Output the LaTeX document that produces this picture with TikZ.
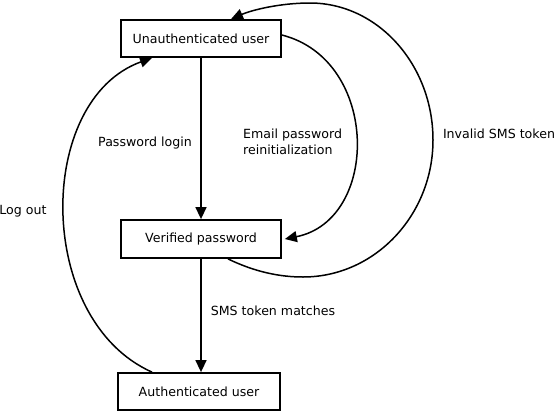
\documentclass[tikz,border=0pt]{standalone}
\usepackage{fontspec}
\setmainfont{DejaVu Sans}
\usetikzlibrary{arrows.meta}
\begin{document}
\begin{tikzpicture}[x=1pt,y=-1pt,
  state/.style={draw,line width=1.8pt,rectangle,minimum width=160pt,minimum height=37pt,inner sep=0pt,font=\fontsize{12.6}{15}\selectfont},
  lbl/.style={font=\fontsize{12.6}{16}\selectfont,inner sep=0pt},
  conn/.style={line width=1.5pt,-{Triangle[length=12pt,width=11pt]}}]
\useasboundingbox (0,0) rectangle (557,413);
\node[state] (u) at (201,38.5) {Unauthenticated user};
\node[state,minimum height=38pt] (v) at (201,239) {Verified password};
\node[state,minimum width=162pt] (a) at (199,391.5) {Authenticated user};
\draw[conn] (u.south) -- (v.north);
\draw[conn] (v.south) -- ([xshift=2pt]a.north);
\draw[conn] ([yshift=3.5pt]u.east) .. controls (380,60) and (380,220) .. ([xshift=3pt]v.east);
\draw[conn] ([xshift=27pt]v.south) .. controls (255,272) and (280,277) .. (303,277)
  .. controls (375,277) and (433,215) .. (433,140)
  .. controls (433,65) and (378,3) .. (310,3)
  .. controls (280,3) and (252,10) .. ([xshift=30pt]u.north);
\draw[conn] ([xshift=-47pt]a.north) .. controls (35,320) and (35,100) .. ([xshift=-49pt]u.south);
\node[lbl] (pl) at (145,143) {Password login};
\node[lbl] (sm) at (273,311) {SMS token matches};
\node[lbl,align=left,anchor=west] (ep) at (243,141.5) {Email password\\reinitialization};
\node[lbl] (is) at (499,134) {Invalid SMS token};
\node[lbl] (lo) at (23,211) {Log out};
\end{tikzpicture}
\end{document}
